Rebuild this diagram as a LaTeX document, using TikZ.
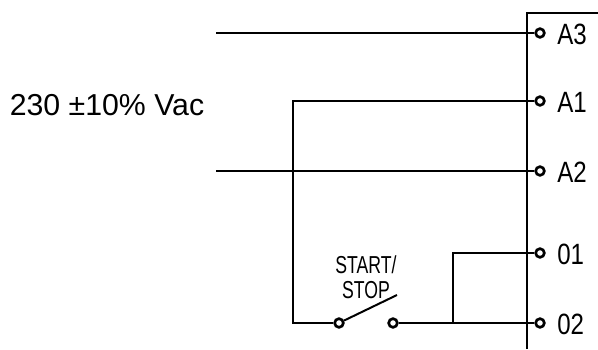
\documentclass[tikz,border=0pt]{standalone}
\usepackage{fontspec}
\setmainfont{Liberation Sans}
\newfontfamily\narrowfont[FakeStretch=0.82]{Liberation Sans}
\newfontfamily\slimfont[FakeStretch=0.72]{Liberation Sans}
\usetikzlibrary{positioning}

\begin{document}
\begin{tikzpicture}[x=0.75pt,y=-0.75pt,line width=1.5pt,
                    term node/.style={circle,draw,line width=2pt,inner sep=0pt,minimum size=6.5pt,fill=white},
                    term label/.style={inner sep=0pt,yshift=-1pt,font=\narrowfont\fontsize{22pt}{23pt}\selectfont,right=8pt of #1}]

  \useasboundingbox (0,0) rectangle (598,349);

  % terminal strip
  \coordinate (boxb) at (527,349);
  \coordinate (boxc) at (527,13);
  \coordinate (boxr) at (598,13);
  \draw (boxb) -- (boxc) -- (boxr);

  \node[term node] (a3) at (540,33) {};
  \node[term node] (a1) [below=42.5pt of a3] {};
  \node[term node] (a2) [below=44pt of a1] {};
  \node[term node] (t01) [below=53pt of a2] {};
  \node[term node] (t02) [below=44pt of t01] {};

  \node[term label=a3] (la3) {A3};
  \node[term label=a1] (la1) {A1};
  \node[term label=a2] (la2) {A2};
  \node[term label=t01] (l01) {01};
  \node[term label=t02] (l02) {02};

  % switch
  \node[term node] (sl) at (339,323) {};
  \node[term node] (sr) at (393,323) {};
  \coordinate (blade) at (397,295);
  \node[inner sep=0pt,align=center,font=\slimfont\fontsize{18.4pt}{18.4pt}\selectfont] (sw) at (366,277) {START/\\STOP};

  \node[inner sep=0pt,font=\fontsize{22.7pt}{24pt}\selectfont] (vac) at (107,105) {230 ±10\% Vac};

  % free wire ends
  \coordinate (wa3) at (216,33);
  \coordinate (wa2) at (216,171);
  \coordinate (wa1) at (293,101);
  \coordinate (wsw) at (293,323);
  \coordinate (j1) at (453,323);
  \coordinate (j2) at (453,253);

  \draw (wa3) -- (a3);
  \draw (wa2) -- (a2);
  \draw (a1) -- (wa1) -- (wsw) -- (sl);
  \draw (sl) -- (blade);
  \draw (sr) -- (t02);
  \draw (j1) -- (j2) -- (t01);
\end{tikzpicture}
\end{document}
